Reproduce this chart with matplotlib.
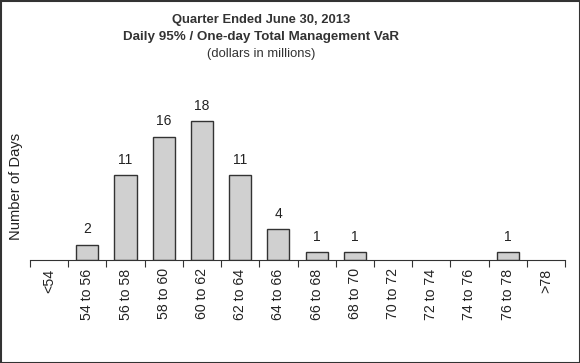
import matplotlib
matplotlib.use("Agg")
import matplotlib.pyplot as plt
from matplotlib.patches import Rectangle

plt.rcParams['font.family'] = ['Liberation Sans', 'DejaVu Sans']

categories = ['<54', '54 to 56', '56 to 58', '58 to 60', '60 to 62', '62 to 64',
              '64 to 66', '66 to 68', '68 to 70', '70 to 72', '72 to 74',
              '74 to 76', '76 to 78', '>78']
days = [0, 2, 11, 16, 18, 11, 4, 1, 1, 0, 0, 0, 1, 0]

W, H = 580, 363
fig = plt.figure(figsize=(W / 100, H / 100), dpi=100)
ax = fig.add_axes([30 / W, 1 - 260 / H, (565 - 30) / W, 154 / H])

x = list(range(len(categories)))
# empty bins get no outline
widths = [1 if v > 0 else 0 for v in days]
ax.bar(x, days, width=0.58, color='#d0d0d0', edgecolor='#333333', linewidth=widths)
for xi, v in zip(x, days):
    if v > 0:
        ax.annotate(str(v), (xi, v), xytext=(0, 6), textcoords='offset points',
                    ha='center', va='bottom', fontsize=10, color='#222222')

ax.set_xlim(-0.5, len(categories) - 0.5)
ax.set_ylim(0, 20)
ax.set_yticks([])
for s in ['top', 'right', 'left']:
    ax.spines[s].set_visible(False)
ax.spines['bottom'].set_color('#333333')
ax.set_xticks([i - 0.5 for i in range(len(categories) + 1)])
ax.set_xticklabels([])
ax.tick_params(axis='x', direction='out', length=5, color='#333333')
for xi, lab in zip(x, categories):
    ax.text(xi, -0.055, lab, transform=ax.get_xaxis_transform(), rotation=90,
            ha='center', va='top', fontsize=10.2, color='#222222')

fig.text(16 / W, 1 - 186 / H, 'Number of Days', rotation=90, ha='center',
         va='center', fontsize=10.6, color='#222222')

tx = 261 / W
fig.text(tx, 1 - 20 / H, 'Quarter Ended June 30, 2013', ha='center', va='center',
         fontsize=9.4, fontweight='bold', color='#333333')
fig.text(tx, 1 - 37 / H, 'Daily 95% / One-day Total Management VaR', ha='center',
         va='center', fontsize=9.6, fontweight='bold', color='#333333')
fig.text(tx, 1 - 54 / H, '(dollars in millions)', ha='center', va='center',
         fontsize=9.4, color='#333333')

fig.patches.append(Rectangle((0.5 / W, 0.5 / H), 1 - 1 / W, 1 - 1 / H,
                             transform=fig.transFigure, fill=False,
                             edgecolor='#333333', linewidth=1.5))

fig.savefig('out.png', dpi=100)
